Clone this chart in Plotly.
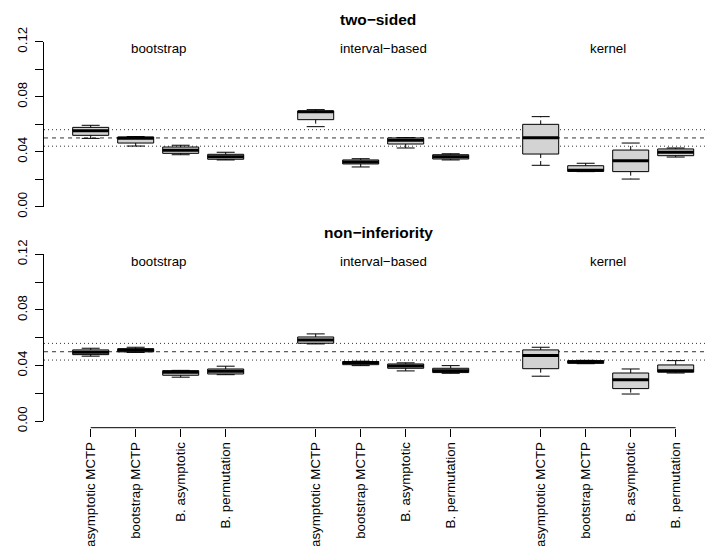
import plotly.graph_objects as go

# ---- data -------------------------------------------------------------
groups = ['bootstrap', 'interval\u2212based', 'kernel']
methods = ['asymptotic MCTP', 'bootstrap MCTP', 'B. asymptotic', 'B. permutation']
panels = ['two\u2212sided', 'non\u2212inferiority']

# box statistics, order: bootstrap(4), interval-based(4), kernel(4)
two_lower = [0.0497, 0.0441, 0.0378, 0.0340, 0.0582, 0.0289, 0.0427, 0.0340, 0.0301, 0.0255, 0.0201, 0.0361]
two_q1 = [0.0519, 0.0463, 0.0388, 0.0345, 0.0633, 0.0311, 0.0456, 0.0347, 0.0383, 0.0257, 0.0255, 0.0371]
two_med = [0.0553, 0.0497, 0.0410, 0.0364, 0.0691, 0.0325, 0.0483, 0.0364, 0.0502, 0.0265, 0.0335, 0.0396]
two_q3 = [0.0577, 0.0507, 0.0434, 0.0381, 0.0696, 0.0340, 0.0500, 0.0378, 0.0599, 0.0298, 0.0412, 0.0420]
two_upper = [0.0592, 0.0510, 0.0447, 0.0396, 0.0706, 0.0349, 0.0502, 0.0385, 0.0655, 0.0316, 0.0463, 0.0427]

non_lower = [0.0468, 0.0495, 0.0317, 0.0335, 0.0556, 0.0400, 0.0362, 0.0345, 0.0324, 0.0414, 0.0196, 0.0347]
non_q1 = [0.0479, 0.0499, 0.0331, 0.0340, 0.0561, 0.0407, 0.0381, 0.0350, 0.0378, 0.0417, 0.0235, 0.0353]
non_med = [0.0496, 0.0511, 0.0352, 0.0360, 0.0585, 0.0422, 0.0398, 0.0364, 0.0472, 0.0427, 0.0299, 0.0364]
non_q3 = [0.0513, 0.0522, 0.0364, 0.0376, 0.0606, 0.0429, 0.0412, 0.0381, 0.0513, 0.0436, 0.0347, 0.0405]
non_upper = [0.0525, 0.0532, 0.0366, 0.0396, 0.0628, 0.0432, 0.0420, 0.0400, 0.0532, 0.0438, 0.0376, 0.0436]

nominal = 0.05
band = [0.044, 0.056]
y_ticks = [0, 0.02, 0.04, 0.06, 0.08, 0.10, 0.12]
y_labels = ['0.00', '', '0.04', '', '0.08', '', '0.12']

# ---- layout constants -------------------------------------------------
# the page body has an 8px margin, so the figure is drawn 8px in from the
# window edge; all pixel positions below are window positions minus OFF
OFF = 8
W, H = 713 - OFF, 546 - OFF
FONT = 'Liberation Sans, Arial, Helvetica, sans-serif'
FS = 13.3
BOXW = 0.8


def px(v):
    return (v - OFF) / W


def py(v):
    return (H - (v - OFF)) / H


positions = [g * 5 + i + 1 for g in range(len(groups)) for i in range(len(methods))]
group_centers = [g * 5 + (len(methods) + 1) / 2 for g in range(len(groups))]

fig = go.Figure()


def add_panel(lower, q1, med, q3, upper, xa, ya):
    # whiskers (dashed) and staples
    wx, wy, sx, sy = [], [], [], []
    for p, lo, a, b, hi in zip(positions, lower, q1, q3, upper):
        wx += [p, p, None, p, p, None]
        wy += [b, hi, None, a, lo, None]
        sx += [p - BOXW / 4, p + BOXW / 4, None, p - BOXW / 4, p + BOXW / 4, None]
        sy += [hi, hi, None, lo, lo, None]
    fig.add_trace(go.Scatter(x=wx, y=wy, mode='lines', xaxis=xa, yaxis=ya,
                             line=dict(color='black', width=1, dash='4px,3px'),
                             hoverinfo='skip'))
    fig.add_trace(go.Scatter(x=sx, y=sy, mode='lines', xaxis=xa, yaxis=ya,
                             line=dict(color='black', width=1), hoverinfo='skip'))
    fig.add_trace(go.Box(
        x=positions, q1=q1, median=med, q3=q3, lowerfence=q1, upperfence=q3,
        width=BOXW, whiskerwidth=0, boxpoints=False,
        fillcolor='#D3D3D3', line=dict(color='black', width=1),
        xaxis=xa, yaxis=ya,
    ))
    # thick medians
    mx, my = [], []
    for p, m in zip(positions, med):
        mx += [p - BOXW / 2, p + BOXW / 2, None]
        my += [m, m, None]
    fig.add_trace(go.Scatter(x=mx, y=my, mode='lines', xaxis=xa, yaxis=ya,
                             line=dict(color='black', width=3), hoverinfo='skip'))


add_panel(two_lower, two_q1, two_med, two_q3, two_upper, 'x', 'y')
add_panel(non_lower, non_q1, non_med, non_q3, non_upper, 'x2', 'y2')

# reference lines
shapes = []
for yref in ['y', 'y2']:
    shapes.append(dict(type='line', xref='paper', yref=yref, x0=px(44), x1=1,
                       y0=nominal, y1=nominal, line=dict(color='#333', width=1, dash='4px,4px'), layer='below'))
    for b in band:
        shapes.append(dict(type='line', xref='paper', yref=yref, x0=px(44), x1=1,
                           y0=b, y1=b, line=dict(color='#333', width=1, dash='1px,3px'), layer='below'))
# R-style x axis line: runs from first to last tick only
shapes.append(dict(type='line', xref='x2', yref='paper', x0=positions[0], x1=positions[-1],
                   y0=py(427.7), y1=py(427.7), line=dict(color='black', width=1)))

annotations = []
for xref, yref in [('x', 'y'), ('x2', 'y2')]:
    for gname, c in zip(groups, group_centers):
        annotations.append(dict(x=c, y=0.115, xref=xref, yref=yref, text=gname,
                                xanchor='center', yanchor='middle', showarrow=False,
                                font=dict(size=FS, color='black', family=FONT)))
for title, ty in zip(panels, [19, 233]):
    annotations.append(dict(x=px((43 + 713) / 2), y=py(ty), xref='paper', yref='paper',
                            text='<b>%s</b>' % title, xanchor='center', yanchor='middle',
                            showarrow=False, font=dict(size=15.5, color='black', family=FONT)))

# plot region spans window x 43..713, with 45px per slot and slot 1 at x=90.7
x_dom = [px(43), 1]
x_rng = [1 - (90.7 - 43) / 45, 1 + (713 - 90.7) / 45]
yaxis_common = dict(
    range=[0, 0.12], anchor='free', position=px(43), showline=True, linecolor='black', linewidth=1,
    ticks='outside', ticklen=8, tickcolor='black', tickvals=y_ticks, ticktext=y_labels,
    tickangle=-90, ticklabelstandoff=3, showgrid=False, zeroline=False, automargin=False,
    tickfont=dict(size=FS, color='black', family=FONT),
)

fig.update_layout(
    template='none',
    width=W, height=H,
    margin=dict(l=0, r=0, t=0, b=0, autoexpand=False),
    paper_bgcolor='white', plot_bgcolor='white',
    showlegend=False,
    shapes=shapes, annotations=annotations,
    xaxis=dict(domain=x_dom, range=x_rng, anchor='y', visible=False, automargin=False),
    xaxis2=dict(domain=x_dom, range=x_rng, anchor='free', position=py(427.7),
                showline=False, ticks='outside', ticklen=8, tickcolor='black',
                tickvals=positions, ticktext=methods * len(groups), tickangle=-90, automargin=False,
                showgrid=False, zeroline=False, tickfont=dict(size=FS, color='black', family=FONT)),
    yaxis=dict(domain=[py(206.7), py(41.7)], **yaxis_common),
    yaxis2=dict(domain=[py(421.3), py(254.3)], **yaxis_common),
)

fig.write_html("out.html")
